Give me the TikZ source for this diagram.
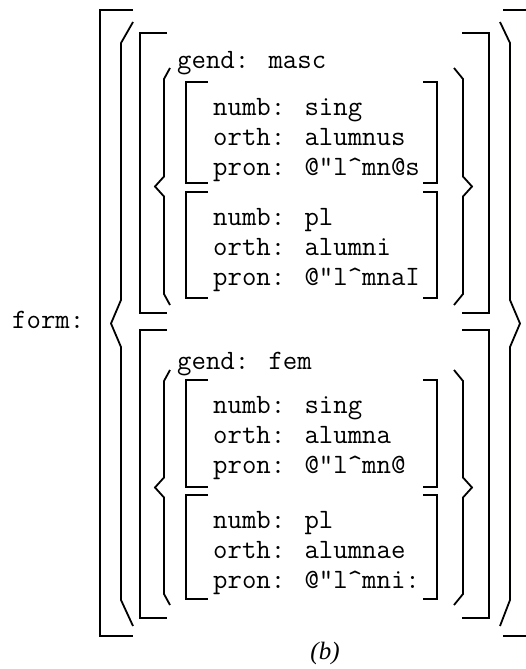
\documentclass[tikz,border=0pt]{standalone}
\usepackage{fontspec}
\setmainfont{Liberation Serif}
\usepackage{tikz}

\tikzset{
  brk/.style={line width=1.8pt},
  feat/.style={font=\ttfamily\fontsize{28}{30}\selectfont, inner sep=0pt, anchor=base west},
  avm/.style={feat, align=left},
}

\begin{document}
\begin{tikzpicture}[x=1pt, y=-1pt]
    \useasboundingbox (0,0) rectangle (526,669);

    % outer brackets
    \draw [brk] (133,10) -- (100,10) -- (100,636) -- (133,636);
    \draw [brk] (503,10) -- (536,10) -- (536,636) -- (503,636);
    \draw [brk] (133,22) -- (121,43) -- (121,300) -- (111,323.5) -- (121,347) -- (121,600) -- (133,626);
    \draw [brk] (500,22) -- (510,43) -- (510,300) -- (520,323.5) -- (510,347) -- (510,600) -- (500,626);

    % one box per gender
    \foreach \t/\b in {33/313, 330/618} {
      \draw [brk] (167,\t) -- (140,\t) -- (140,\b) -- (167,\b);
      \draw [brk] (462,\t) -- (489,\t) -- (489,\b) -- (462,\b);
    }
    \foreach \t/\b in {68/305, 370/605} {
      \pgfmathsetmacro\m{(\t+\b)/2}
      \draw [brk] (170,\t) -- (164,\t+11) -- (164,\m-10) -- (155,\m) -- (164,\m+10) -- (164,\b-11) -- (170,\b);
      \draw [brk] (454,\t) -- (463,\t+11) -- (463,\m-10) -- (472,\m) -- (463,\m+10) -- (463,\b-11) -- (454,\b);
    }

    % one box per number
    \foreach \t/\b in {82/183, 192/298, 380/487, 495/599} {
      \draw [brk] (208,\t) -- (186,\t) -- (186,\b) -- (208,\b);
      \draw [brk] (423,\t) -- (437,\t) -- (437,\b) -- (423,\b);
    }

    \node (form) [feat] at (12,328) {form:};
    \node (masc) [feat] at (177,69) {gend: masc};
    \node (fem) [feat] at (177,369) {gend: fem};

    % base of a multi-line node is its last line
    \node (msg) [avm] at (213,175) {numb: sing\\orth: alumnus\\pron: @"l\textasciicircum{}mn@s};
    \node (mpl) [avm] at (213,285) {numb: pl\\orth: alumni\\pron: @"l\textasciicircum{}mnaI};
    \node (fsg) [avm] at (213,473) {numb: sing\\orth: alumna\\pron: @"l\textasciicircum{}mn@};
    \node (fpl) [avm] at (213,588) {numb: pl\\orth: alumnae\\pron: @"l\textasciicircum{}mni:};

    \node (cap) [font=\itshape\fontsize{25}{30}\selectfont] at (325,653) {(b)};
\end{tikzpicture}
\end{document}
